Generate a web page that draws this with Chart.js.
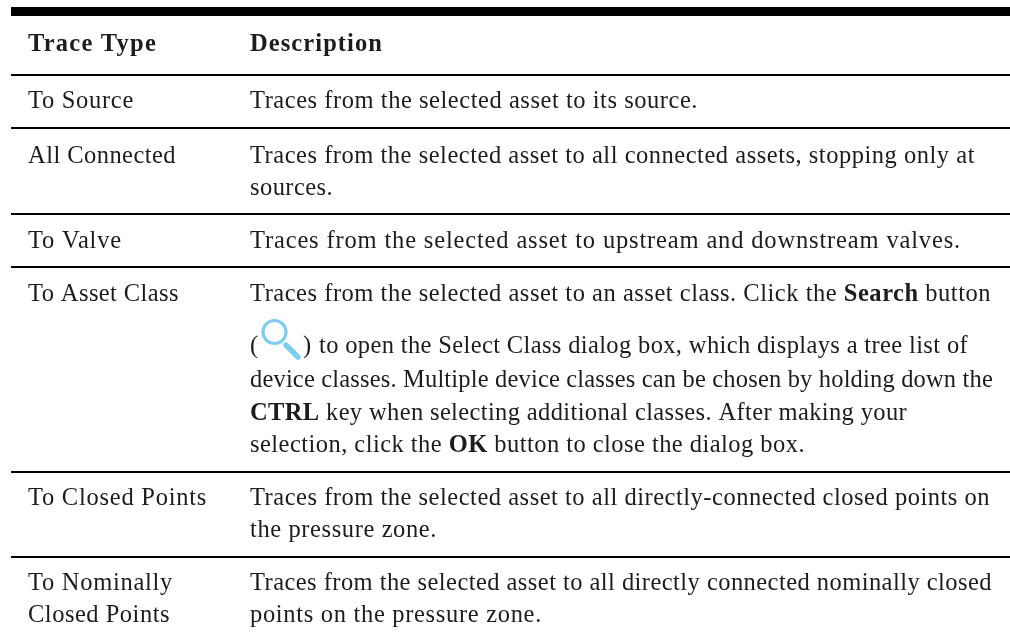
<!DOCTYPE html>
<html><head><meta charset="utf-8"><title>Trace Types</title>
<script src="https://cdn.jsdelivr.net/npm/chart.js@4"></script>
<style>html,body{margin:0;padding:0;background:#fff;overflow:hidden}canvas{display:block}</style>
</head><body><canvas id="c" width="1010" height="636"></canvas>
<script>
// Table content. **text** marks bold runs.
const headers = ["Trace Type", "Description"];
const traceTypes = [["To Source"], ["All Connected"], ["To Valve"], ["To Asset Class"], ["To Closed Points"], ["To Nominally", "Closed Points"]];
const descriptions = [
  ["Traces from the selected asset to its source."],
  ["Traces from the selected asset to all connected assets, stopping only at", "sources."],
  ["Traces from the selected asset to upstream and downstream valves."],
  ["Traces from the selected asset to an asset class. Click the **Search** button",
   "to open the Select Class dialog box, which displays a tree list of",
   "device classes. Multiple device classes can be chosen by holding down the",
   "**CTRL** key when selecting additional classes. After making your",
   "selection, click the **OK** button to close the dialog box."],
  ["Traces from the selected asset to all directly-connected closed points on", "the pressure zone."],
  ["Traces from the selected asset to all directly connected nominally closed", "points on the pressure zone."]
];
// Layout in page units.
const ruleRows = [11.5, 75, 128, 214, 267, 472, 557];
const headerBase = 51;
const typeBases = [[108],[163],[248],[301],[505],[590,622]];
const descBases = [[108],[163,195],[248],[301,353,387,420,452],[505,537],[590,622]];
const typeEnds = [[134],[176],[122],[179],[207],[173,170]];
const descEnds = [[698],[975,333],[961],[991,968,993,907,805],[990,437],[992,542]];
const headerEnds = [157,383];
const colX = [28,250];
const FONT = '"Liberation Serif"';
const SIZE = 24.5;
const INK = '#1c1c1c';

function runs(s){return s.split('**').map((t,i)=>({t,b:i%2===1})).filter(r=>r.t);}
function fontOf(b){return (b?'bold ':'')+SIZE+'px '+FONT;}
function drawLine(ctx,s,x0,x1,y,allBold){
  const rs=runs(s).map(r=>({t:r.t,b:allBold||r.b}));
  ctx.letterSpacing='0px';
  let w=0,n=0;
  rs.forEach(r=>{ctx.font=fontOf(r.b);w+=ctx.measureText(r.t).width;n+=r.t.length;});
  const ls=(x1-x0-w)/n;
  ctx.letterSpacing=ls.toFixed(3)+'px';
  let x=x0;
  rs.forEach(r=>{ctx.font=fontOf(r.b);ctx.fillText(r.t,x,y);x+=ctx.measureText(r.t).width;});
  ctx.letterSpacing='0px';
}
const tablePlugin={id:'table',afterDraw(ch){
  const ctx=ch.ctx,X=ch.scales.x,Y=ch.scales.y,px=v=>X.getPixelForValue(v),py=v=>Y.getPixelForValue(v);
  ctx.save();ctx.fillStyle=INK;ctx.textBaseline='alphabetic';ctx.textAlign='left';
  headers.forEach((h,i)=>drawLine(ctx,h,px(colX[i]),px(headerEnds[i]),py(headerBase),true));
  traceTypes.forEach((ls,r)=>ls.forEach((s,i)=>drawLine(ctx,s,px(colX[0]),px(typeEnds[r][i]),py(typeBases[r][i]),false)));
  descriptions.forEach((ls,r)=>ls.forEach((s,i)=>{
    const iconLine=(r===3&&i===1);
    drawLine(ctx,s,px(iconLine?319:colX[1]),px(descEnds[r][i]),py(descBases[r][i]),false);
  }));
  // search icon with its brackets
  ctx.font=fontOf(false);
  ctx.fillText('(',px(250),py(353));ctx.fillText(')',px(303),py(353));
  ctx.strokeStyle='#7fcdee';ctx.lineCap='round';
  ctx.lineWidth=3.2;ctx.beginPath();ctx.arc(px(274.5),py(332),11.5,0,Math.PI*2);ctx.stroke();
  ctx.lineWidth=5.5;ctx.beginPath();ctx.moveTo(px(286),py(345));ctx.lineTo(px(298),py(357));ctx.stroke();
  ctx.restore();
}};
new Chart(document.getElementById('c'),{
  type:'scatter',
  data:{datasets:[{data:[],showLine:false}]},
  plugins:[tablePlugin],
  options:{
    responsive:false,animation:false,devicePixelRatio:1,
    layout:{padding:{left:11,right:0,top:0,bottom:0}},
    plugins:{legend:{display:false},tooltip:{enabled:false},title:{display:false}},
    scales:{
      x:{type:'linear',min:11,max:1010,display:false},
      y:{type:'linear',reverse:true,min:0,max:636,
        afterBuildTicks(a){a.ticks=ruleRows.map(v=>({value:v}));},
        ticks:{display:false},border:{display:false},
        grid:{color:'#000',drawTicks:false,lineWidth:c=>c.index===0?9:2}}
    }
  }
});
</script></body></html>
